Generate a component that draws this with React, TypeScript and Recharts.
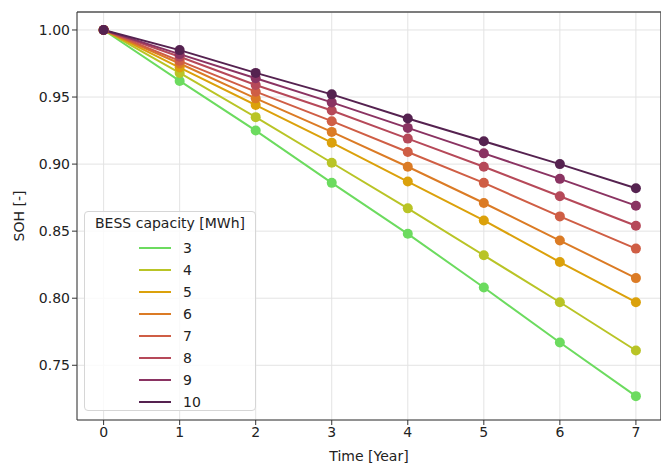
import React from "react";
import {
  CartesianGrid,
  Line,
  LineChart,
  ReferenceLine,
  XAxis,
  YAxis,
} from "recharts";

const years = [0, 1, 2, 3, 4, 5, 6, 7];
const capacities = ["3", "4", "5", "6", "7", "8", "9", "10"];
const colors = [
  "#6cdb5f",
  "#b9c426",
  "#dba10b",
  "#db7b25",
  "#cf5e45",
  "#b64959",
  "#8a3362",
  "#552250",
];

const soh3 = [1.0, 0.962, 0.925, 0.886, 0.848, 0.808, 0.767, 0.727];
const soh4 = [1.0, 0.968, 0.935, 0.901, 0.867, 0.832, 0.797, 0.761];
const soh5 = [1.0, 0.972, 0.944, 0.916, 0.887, 0.858, 0.827, 0.797];
const soh6 = [1.0, 0.975, 0.949, 0.924, 0.898, 0.871, 0.843, 0.815];
const soh7 = [1.0, 0.977, 0.954, 0.932, 0.909, 0.886, 0.861, 0.837];
const soh8 = [1.0, 0.98, 0.959, 0.94, 0.919, 0.898, 0.876, 0.854];
const soh9 = [1.0, 0.982, 0.964, 0.946, 0.927, 0.908, 0.889, 0.869];
const soh10 = [1.0, 0.985, 0.968, 0.952, 0.934, 0.917, 0.9, 0.882];

const series = [soh3, soh4, soh5, soh6, soh7, soh8, soh9, soh10];
const yTicks = [0.75, 0.8, 0.85, 0.9, 0.95, 1.0];

const data = years.map((year, i) => {
  const row: Record<string, number> = { year };
  capacities.forEach((c, j) => {
    row["c" + c] = series[j][i];
  });
  return row;
});

const font = "'DejaVu Sans', sans-serif";

// legend drawn over the plot, like matplotlib's loc="lower left"
const LegendBox = () => (
  <div
    style={{
      position: "absolute",
      left: 84,
      top: 211,
      width: 172,
      height: 200,
      background: "rgba(255,255,255,0.8)",
      border: "1px solid #d6d6d6",
      borderRadius: 4,
      fontFamily: font,
      color: "#222",
      boxSizing: "border-box",
    }}
  >
    <div style={{ fontSize: 14, textAlign: "center", paddingTop: 3, height: 22 }}>
      BESS capacity [MWh]
    </div>
    {capacities.map((c, j) => (
      <div key={c} style={{ display: "flex", alignItems: "center", height: 22 }}>
        <div
          style={{
            marginLeft: 54,
            width: 32,
            height: 2,
            background: colors[j],
          }}
        />
        <div style={{ marginLeft: 12, fontSize: 14 }}>{c}</div>
      </div>
    ))}
  </div>
);

const App = () => {
  return (
    <div style={{ position: "absolute", left: 0, top: 0, width: 661, height: 465 }}>
      <LineChart
        width={661}
        height={465}
        data={data}
        margin={{ top: 12, right: 0, bottom: 0, left: 0 }}
      >
        <CartesianGrid stroke="#e3e3e3" strokeWidth={1} />
        <XAxis
          dataKey="year"
          type="number"
          domain={[-0.35, 7.33]}
          ticks={years}
          height={45}
          tickSize={5}
          stroke="#333"
          tick={{ fill: "#222", fontSize: 14, fontFamily: font }}
          label={{
            value: "Time [Year]",
            position: "insideBottom",
            offset: 4,
            fill: "#222",
            fontSize: 14,
            fontFamily: font,
          }}
        />
        <YAxis
          type="number"
          domain={[0.7092, 1.0134]}
          ticks={yTicks}
          width={77}
          tickSize={5}
          stroke="#333"
          allowDataOverflow
          tickFormatter={(v: number) => v.toFixed(2)}
          tick={{ fill: "#222", fontSize: 14, fontFamily: font }}
          label={{
            value: "SOH [-]",
            angle: -90,
            position: "insideLeft",
            offset: 19,
            style: { textAnchor: "middle" },
            fill: "#222",
            fontSize: 14,
            fontFamily: font,
          }}
        />
        <ReferenceLine y={1.0134} stroke="#555" strokeWidth={1.5} />
        <ReferenceLine x={7.33} stroke="#555" strokeWidth={1.5} />
        {capacities.map((c, j) => (
          <Line
            key={c}
            dataKey={"c" + c}
            type="linear"
            stroke={colors[j]}
            strokeWidth={2}
            dot={{ r: 5, fill: colors[j], stroke: "none", fillOpacity: 1 }}
            isAnimationActive={false}
          />
        ))}
      </LineChart>
      <LegendBox />
    </div>
  );
};

export default App;
